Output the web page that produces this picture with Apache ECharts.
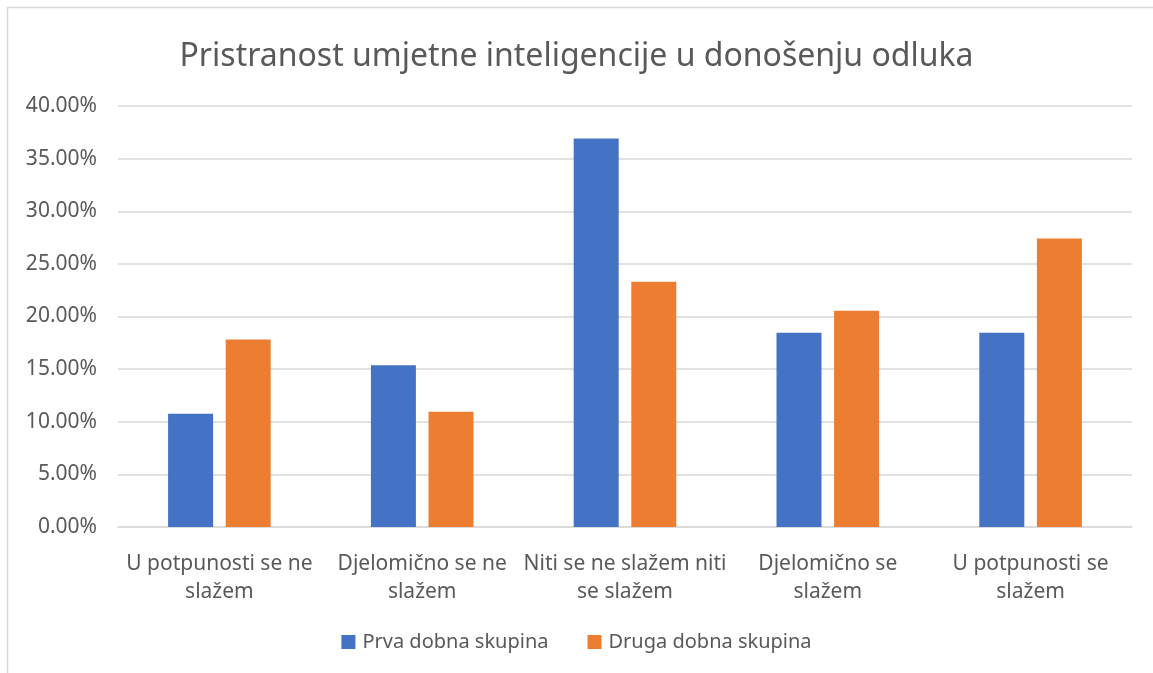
<!DOCTYPE html>
<html>
<head>
<meta charset="utf-8">
<script src="https://cdn.jsdelivr.net/npm/echarts@6/dist/echarts.min.js"></script>
<style>
  html, body { margin: 0; padding: 0; background: #fff; }
  #chart { width: 1153px; height: 673px; }
</style>
</head>
<body>
<div id="chart"></div>
<script>
// kategorije odgovora (s prijelomom reda kao na izvorniku)
const categories = [
  'U potpunosti se ne\nslažem',
  'Djelomično se ne\nslažem',
  'Niti se ne slažem niti\nse slažem',
  'Djelomično se\nslažem',
  'U potpunosti se\nslažem',
];
const seriesNames = ['Prva dobna skupina', 'Druga dobna skupina'];
const prvaSkupina = [10.77, 15.38, 36.92, 18.46, 18.46];
const drugaSkupina = [17.81, 10.96, 23.29, 20.55, 27.40];

const textColor = '#595959';
const font = 'Noto Sans';

const chart = echarts.init(document.getElementById('chart'));
const option = {
  animation: false,
  color: ['#4472C4', '#ED7D31'],
  textStyle: { fontFamily: font, color: textColor },
  graphic: [
    {
      // okvir grafikona
      type: 'rect',
      shape: { x: 7.5, y: 7.5, width: 1200, height: 700 },
      style: { fill: 'none', stroke: '#d9d9d9', lineWidth: 1.5 },
      silent: true,
    },
  ],
  title: {
    text: 'Pristranost umjetne inteligencije u donošenju odluka',
    left: 'center',
    top: 36,
    textStyle: {
      fontFamily: font,
      fontSize: 32,
      fontWeight: 'normal',
      color: textColor,
    },
  },
  legend: {
    data: seriesNames,
    bottom: 16,
    left: 'center',
    itemWidth: 14,
    itemHeight: 14,
    itemGap: 39,
    icon: 'rect',
    textStyle: { fontFamily: font, fontSize: 20, color: textColor, padding: [0, 0, 0, 2] },
  },
  grid: {
    left: 118,
    right: 21,
    top: 106,
    bottom: 146,
  },
  xAxis: {
    type: 'category',
    data: categories,
    axisTick: { show: false },
    axisLine: { lineStyle: { color: '#d9d9d9', width: 1.5 } },
    axisLabel: {
      fontFamily: font,
      fontSize: 21,
      color: textColor,
      lineHeight: 28,
      margin: 23,
      interval: 0,
    },
  },
  yAxis: {
    type: 'value',
    min: 0,
    max: 40,
    interval: 5,
    axisLine: { show: false },
    axisTick: { show: false },
    splitLine: { lineStyle: { color: '#d9d9d9', width: 1.5 } },
    axisLabel: {
      fontFamily: font,
      fontSize: 21,
      color: textColor,
      margin: 21,
      formatter: (v) => v.toFixed(2) + '%',
    },
  },
  series: [
    {
      name: seriesNames[0],
      type: 'bar',
      data: prvaSkupina,
      barWidth: 45,
      barGap: '28%',
    },
    {
      name: seriesNames[1],
      type: 'bar',
      data: drugaSkupina,
      barWidth: 45,
      barGap: '28%',
    },
  ],
};
chart.setOption(option);
</script>
</body>
</html>
